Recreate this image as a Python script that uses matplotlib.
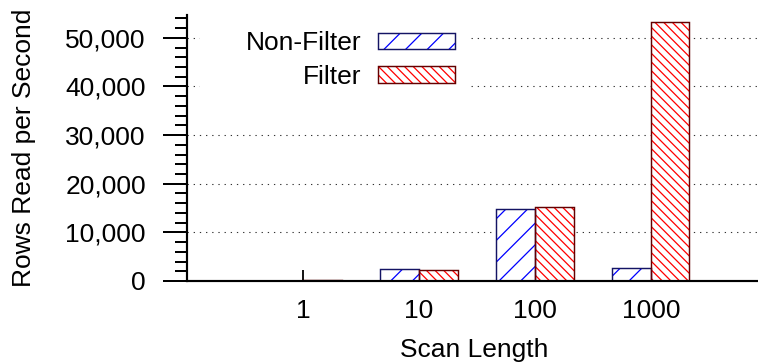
import numpy as np
import matplotlib
matplotlib.use('Agg')
import matplotlib.pyplot as plt
import matplotlib.ticker as mtick
from matplotlib.patches import Rectangle
from matplotlib.legend_handler import HandlerTuple

# data
scan_lengths = ['1', '10', '100', '1000']
non_filter = [60, 2400, 14870, 2730]
filter_rows = [300, 2200, 15140, 53360]

DPI = 130
FS = 14.6
W, H = 758, 364

plt.rcParams['font.family'] = ['Liberation Sans', 'DejaVu Sans']
plt.rcParams['hatch.linewidth'] = 0.7

fig = plt.figure(figsize=(W / DPI, H / DPI), dpi=DPI)
# axes box in pixels: left 187, right ~761, bottom 281, top 15
ax = fig.add_axes([187 / W, 1 - 281 / H, (761 - 187) / W, (281 - 15) / H])

x = np.arange(len(scan_lengths))
w = 1 / 3

# hatched fill, then a plain outline on top
nf_fill = ax.bar(x - w / 2, non_filter, w, color='white', edgecolor='#0000ff',
                 linewidth=0, hatch='//', zorder=2)
nf_edge = ax.bar(x - w / 2, non_filter, w, facecolor='none', edgecolor='#141464',
                 linewidth=0.8, zorder=2.1)
f_fill = ax.bar(x + w / 2, filter_rows, w, color='white', edgecolor='#ff0000',
                linewidth=0, hatch='\\\\\\\\\\', zorder=2)
f_edge = ax.bar(x + w / 2, filter_rows, w, facecolor='none', edgecolor='#640000',
                linewidth=0.8, zorder=2.1)

ax.set_xlim(-1, 3.95)
ax.set_ylim(0, 54700)
ax.set_xticks(x)
ax.set_xticklabels(scan_lengths)
ax.yaxis.set_major_locator(mtick.MultipleLocator(10000))
ax.yaxis.set_minor_locator(mtick.MultipleLocator(2000))
ax.yaxis.set_major_formatter(mtick.StrMethodFormatter('{x:,.0f}'))

ax.spines['top'].set_visible(False)
ax.spines['right'].set_visible(False)
ax.spines['left'].set_linewidth(1.2)
ax.spines['bottom'].set_linewidth(1.2)

ax.tick_params(axis='y', which='major', direction='out', length=13.3, width=1.1,
               pad=9.5, labelsize=FS)
ax.tick_params(axis='y', which='minor', direction='out', length=6.6, width=1.1)
ax.tick_params(axis='x', which='major', direction='in', length=6, width=1.0,
               pad=10, labelsize=FS)

ax.yaxis.grid(True, which='major', color='#333333', linewidth=0.6,
              linestyle=(0, (1.2, 4.5)))

ax.set_ylabel('Rows Read per Second', fontsize=FS, labelpad=16)
ax.set_xlabel('Scan Length', fontsize=FS, labelpad=8)

# key box is wider than its content: blank out the grid behind it
ax.add_patch(Rectangle((200 / W, 1 - 95 / H), 270 / W, 80 / H, transform=fig.transFigure,
                       facecolor='white', edgecolor='none', zorder=1.8, clip_on=False))

leg = ax.legend([(nf_fill, nf_edge), (f_fill, f_edge)], ['Non-Filter', 'Filter'],
                handler_map={tuple: HandlerTuple(ndivide=1)},
                loc='upper right', bbox_to_anchor=(468 / W, 346 / H),
                bbox_transform=fig.transFigure, markerfirst=False, alignment='right',
                fontsize=FS, handlelength=2.93, handleheight=0.6, handletextpad=0.6,
                labelspacing=0.36, borderpad=0.5, borderaxespad=0, fancybox=False,
                framealpha=1, facecolor='white', edgecolor='none')
leg.set_zorder(3)

plt.savefig('out.png', dpi=DPI)
